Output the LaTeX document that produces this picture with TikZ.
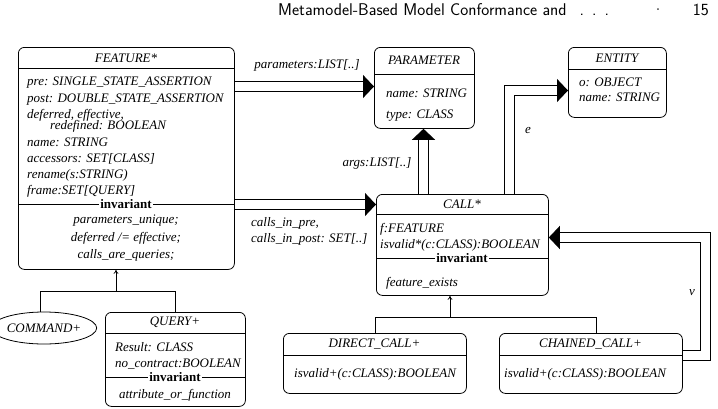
\documentclass[tikz,border=0pt]{standalone}
\usepackage{fontspec}
\setmainfont{Liberation Serif}
\usepackage{tikz}
\usetikzlibrary{arrows.meta,shapes.geometric}

\begin{document}
\begin{tikzpicture}[
        x=1pt, y=-1pt,
        font=\fontsize{13}{16.3}\selectfont\itshape,
        classbox/.style = {draw, rounded corners=6pt, line width=0.8pt, inner sep=0pt, anchor=north west},
        title/.style = {inner sep=0pt},
        attrs/.style = {anchor=north west, align=left, inner sep=0pt},
        inv/.style = {font=\fontsize{13}{15}\selectfont\upshape\bfseries, fill=white, inner sep=1.5pt},
        header/.style = {font=\fontsize{17}{17}\selectfont\sffamily\upshape, inner sep=0pt},
        sep/.style = {line width=0.8pt},
        dbl/.style = {double, double distance=8.6pt, line width=1.2pt, shorten >=10.5pt},
        dbltip/.style = {draw=white, line width=1pt, -{Triangle[length=11pt, width=23pt, color=black]}},
        inherit/.style = {line width=0.8pt, -{To[length=4pt, width=5pt]}}
    ]
    \useasboundingbox (0,0) rectangle (718,408);

    % running head
    \node[header, anchor=base west] (runhead) at (278,15) {Metamodel-Based Model Conformance and\hspace{13pt}.\hspace{8pt}.\hspace{8pt}.};
    \node[header, anchor=base] (headdot) at (658,15) {\textperiodcentered};
    \node[header, anchor=base east] (pageno) at (709,15) {15};

    % FEATURE class
    \node[classbox, minimum width=216pt, minimum height=222pt] (feature) at (18,47) {};
    \draw[sep] (feature.west |- 0,68) -- (feature.east |- 0,68);
    \draw[sep] (feature.west |- 0,204) -- (feature.east |- 0,204);
    \node[title] (featuretitle) at (126,58) {FEATURE*};
    \node[attrs] (featureattrs) at (27,77) {pre: SINGLE\_STATE\_ASSERTION\\
        post: DOUBLE\_STATE\_ASSERTION\\
        deferred, effective,\\[-5pt]
        \hspace*{23pt}redefined: BOOLEAN\\
        name: STRING\\
        accessors: SET[CLASS]\\
        rename(s:STRING)\\
        frame:SET[QUERY]};
    \node[inv] (featureinvlabel) at (126,204) {invariant};
    \node[align=center, inner sep=0pt, anchor=north, font=\fontsize{13}{17.5}\selectfont\itshape] (featureinv) at (126,215) {parameters\_unique;\\ deferred /= effective;\\ calls\_are\_queries;};

    % PARAMETER class
    \node[classbox, minimum width=100pt, minimum height=81pt] (param) at (374,47) {};
    \draw[sep] (param.west |- 0,74) -- (param.east |- 0,74);
    \node[title] (paramtitle) at (424,60) {PARAMETER};
    \node[attrs] (paramattrs) at (386,89) {name: STRING\\[4pt] type: CLASS};

    % ENTITY class
    \node[classbox, minimum width=98pt, minimum height=70pt] (entity) at (568,47) {};
    \draw[sep] (entity.west |- 0,69) -- (entity.east |- 0,69);
    \node[title] (entitytitle) at (617,58) {ENTITY};
    \node[attrs, font=\fontsize{13}{15}\selectfont\itshape] (entityattrs) at (579,78) {o: OBJECT\\ name: STRING};

    % CALL class
    \node[classbox, minimum width=172pt, minimum height=101pt] (call) at (376,194) {};
    \draw[sep] (call.west |- 0,214) -- (call.east |- 0,214);
    \draw[sep] (call.west |- 0,258) -- (call.east |- 0,258);
    \node[title] (calltitle) at (462,204) {CALL*};
    \node[attrs] (callattrs) at (380,223) {f:FEATURE\\ isvalid*(c:CLASS):BOOLEAN};
    \node[inv] (callinvlabel) at (462,258) {invariant};
    \node[attrs] (callinv) at (386,277) {feature\_exists};

    % DIRECT_CALL and CHAINED_CALL
    \node[classbox, minimum width=183pt, minimum height=60pt] (direct) at (283,333) {};
    \draw[sep] (direct.west |- 0,355) -- (direct.east |- 0,355);
    \node[title] (directtitle) at (374.5,344) {DIRECT\_CALL+};
    \node[attrs] (directattrs) at (294,368) {isvalid+(c:CLASS):BOOLEAN};

    \node[classbox, minimum width=183pt, minimum height=60pt] (chained) at (499,333) {};
    \draw[sep] (chained.west |- 0,355) -- (chained.east |- 0,355);
    \node[title] (chainedtitle) at (590.5,344) {CHAINED\_CALL+};
    \node[attrs] (chainedattrs) at (504,368) {isvalid+(c:CLASS):BOOLEAN};

    % COMMAND and QUERY
    \node[draw, ellipse, line width=0.8pt, minimum width=90pt, minimum height=32pt, inner sep=0pt] (command) at (44,328) {COMMAND+};

    \node[classbox, minimum width=140pt, minimum height=94pt] (query) at (105,312) {};
    \draw[sep] (query.west |- 0,333) -- (query.east |- 0,333);
    \draw[sep] (query.west |- 0,377) -- (query.east |- 0,377);
    \node[title] (querytitle) at (175,322.5) {QUERY+};
    \node[attrs] (queryattrs) at (115,342) {Result: CLASS\\ no\_contract:BOOLEAN};
    \node[inv] (queryinvlabel) at (175,377) {invariant};
    \node[title] (queryinv) at (175,395) {attribute\_or\_function};

    % inheritance
    \coordinate (featurejoin) at (116,291);
    \draw[sep] (command.north -| 40,0) |- (query.north |- featurejoin) -- (query.north);
    \draw[inherit] (featurejoin) -- (feature.south -| featurejoin);

    \coordinate (calljoin) at (450,317);
    \draw[sep] (direct.north) |- (calljoin -| 596,0) -- (chained.north -| 596,0);
    \draw[inherit] (calljoin) -- (call.south -| calljoin);

    % associations (double line, then its tip)
    \draw[dbl] (feature.east |- 0,86.5) -- (param.west |- 0,86.5);
    \draw[dbltip] (feature.east |- 0,86.5) -- (param.west |- 0,86.5);
    \draw[dbl] (feature.east |- 0,204.5) -- (call.west |- 0,204.5);
    \draw[dbltip] (feature.east |- 0,204.5) -- (call.west |- 0,204.5);
    \draw[dbl] (call.north -| 423.5,0) -- (param.south -| 423.5,0);
    \draw[dbltip] (call.north -| 423.5,0) -- (param.south -| 423.5,0);
    \draw[dbl] (call.north -| 509.5,0) |- (entity.west |- 0,90.5);
    \draw[dbltip] (call.north -| 509.5,0) |- (entity.west |- 0,90.5);
    \draw[dbl] (chained.east |- 0,355.5) -- ++(22.5,0) |- (call.east |- 0,237.5);
    \draw[dbltip] (chained.east |- 0,355.5) -- ++(22.5,0) |- (call.east |- 0,237.5);

    % association labels
    \node (paramlabel) at (307,65) {parameters:LIST[..]};
    \node (argslabel) at (377,163) {args:LIST[..]};
    \node[attrs] (callslabel) at (251,217) {calls\_in\_pre,\\ calls\_in\_post: SET[..]};
    \node (elabel) at (528,130) {e};
    \node (vlabel) at (692,293) {v};

\end{tikzpicture}
\end{document}
